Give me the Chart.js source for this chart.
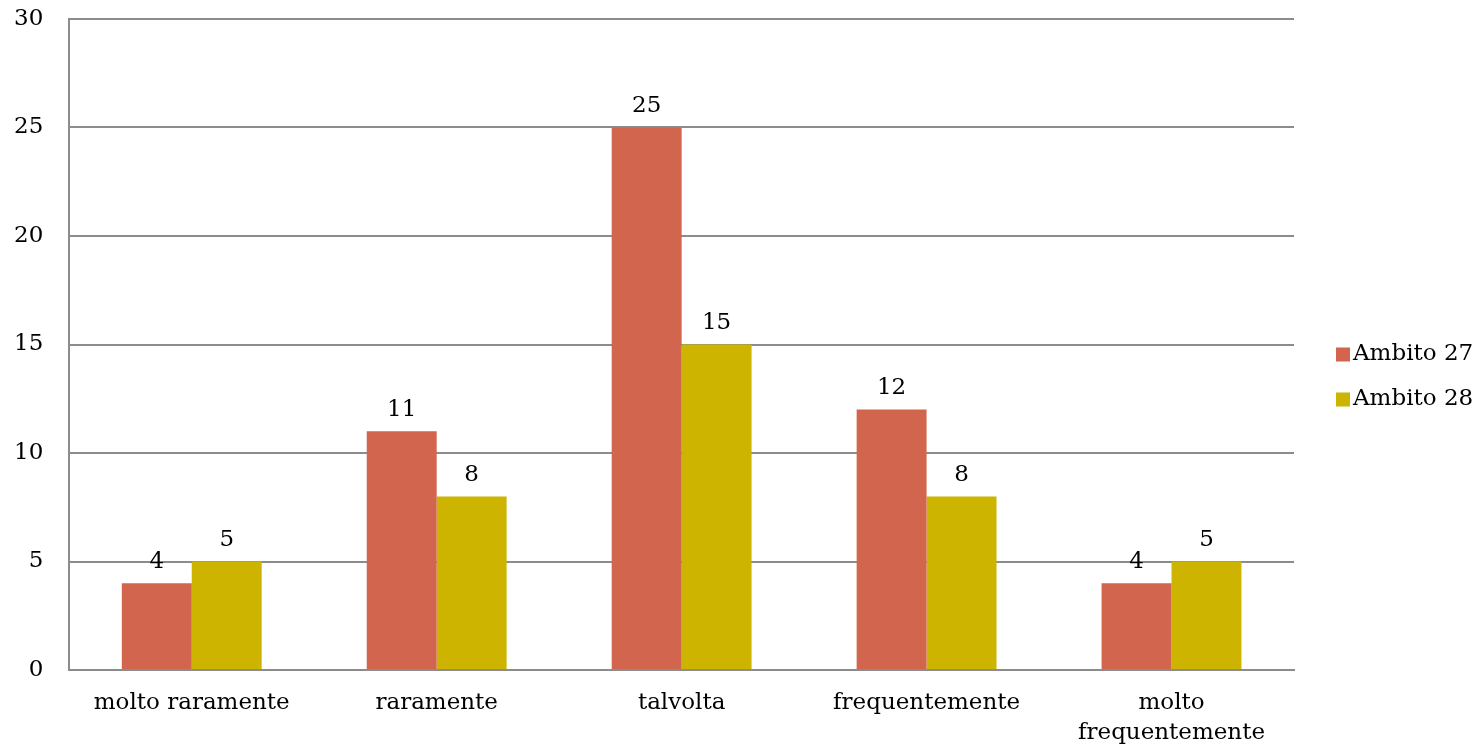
<!DOCTYPE html>
<html>
<head>
<meta charset="utf-8">
<script src="https://cdn.jsdelivr.net/npm/chart.js@4/dist/chart.umd.min.js"></script>
<style>
  html, body { margin: 0; padding: 0; background: #ffffff; }
  #wrap { position: relative; width: 1484px; height: 746px; }
</style>
</head>
<body>
<div id="wrap"><canvas id="chart"></canvas></div>
<script>
// Categorie e valori
const categories = ['molto raramente', 'raramente', 'talvolta', 'frequentemente', ['molto', 'frequentemente']];
const ambito27 = [4, 11, 25, 12, 4];
const ambito28 = [5, 8, 15, 8, 5];
const yTicks = [0, 5, 10, 15, 20, 25, 30];

const FONT = "'DejaVu Serif', 'Liberation Serif', serif";
const SIZE = 23;

// Etichette dei valori sopra le barre
const valueLabels = {
    id: 'valueLabels',
    afterDatasetsDraw(chart) {
        const ctx = chart.ctx;
        ctx.save();
        ctx.fillStyle = '#000000';
        ctx.font = SIZE + 'px ' + FONT;
        ctx.textAlign = 'center';
        ctx.textBaseline = 'bottom';
        chart.data.datasets.forEach((ds, i) => {
            chart.getDatasetMeta(i).data.forEach((bar, j) => {
                ctx.fillText(String(ds.data[j]), bar.x, bar.y - 10);
            });
        });
        ctx.restore();
    }
};

// Legenda a destra, disegnata a mano (quadratino + testo vicino)
const sideLegend = {
    id: 'sideLegend',
    afterDraw(chart) {
        const ctx = chart.ctx;
        const x = chart.chartArea.right + 42;
        const yMid = chart.height / 2 + 4;
        ctx.save();
        ctx.font = SIZE + 'px ' + FONT;
        ctx.textBaseline = 'middle';
        ctx.textAlign = 'left';
        chart.data.datasets.forEach((ds, i) => {
            const y = yMid + (i - 0.5) * 45;
            ctx.fillStyle = ds.backgroundColor;
            ctx.fillRect(x, y - 7, 14, 14);
            ctx.fillStyle = '#000000';
            ctx.fillText(ds.label, x + 17, y);
        });
        ctx.restore();
    }
};

const ctx = document.getElementById('chart').getContext('2d');

new Chart(ctx, {
    type: 'bar',
    data: {
        labels: categories,
        datasets: [
            {
                label: 'Ambito 27',
                data: ambito27,
                backgroundColor: '#D2654D',
                borderWidth: 0
            },
            {
                label: 'Ambito 28',
                data: ambito28,
                backgroundColor: '#CCB400',
                borderWidth: 0
            }
        ]
    },
    options: {
        responsive: true,
        maintainAspectRatio: false,
        animation: false,
        datasets: {
            bar: {
                barPercentage: 1.0,
                categoryPercentage: 0.571
            }
        },
        layout: {
            padding: { top: 19, right: 190, bottom: 0, left: -12 }
        },
        plugins: {
            legend: { display: false },
            title: { display: false },
            tooltip: { enabled: false }
        },
        scales: {
            x: {
                grid: { display: false, drawTicks: false },
                border: { display: true, color: '#8C8C8C', width: 2 },
                ticks: {
                    color: '#000000',
                    padding: 18,
                    maxRotation: 0,
                    autoSkip: false,
                    font: { family: FONT, size: SIZE, lineHeight: 1.3 }
                },
                afterFit: (scale) => {
                    scale.height = 76;
                }
            },
            y: {
                min: 0,
                max: 30,
                afterBuildTicks: (scale) => {
                    scale.ticks = yTicks.map(v => ({ value: v }));
                },
                afterFit: (scale) => {
                    scale.paddingTop = 0;
                    scale.paddingBottom = 0;
                },
                grid: { color: '#8C8C8C', lineWidth: 2, drawTicks: false },
                border: { display: true, color: '#8C8C8C', width: 2 },
                ticks: {
                    color: '#000000',
                    padding: 26,
                    font: { family: FONT, size: SIZE }
                }
            }
        }
    },
    plugins: [valueLabels, sideLegend]
});
</script>
</body>
</html>
